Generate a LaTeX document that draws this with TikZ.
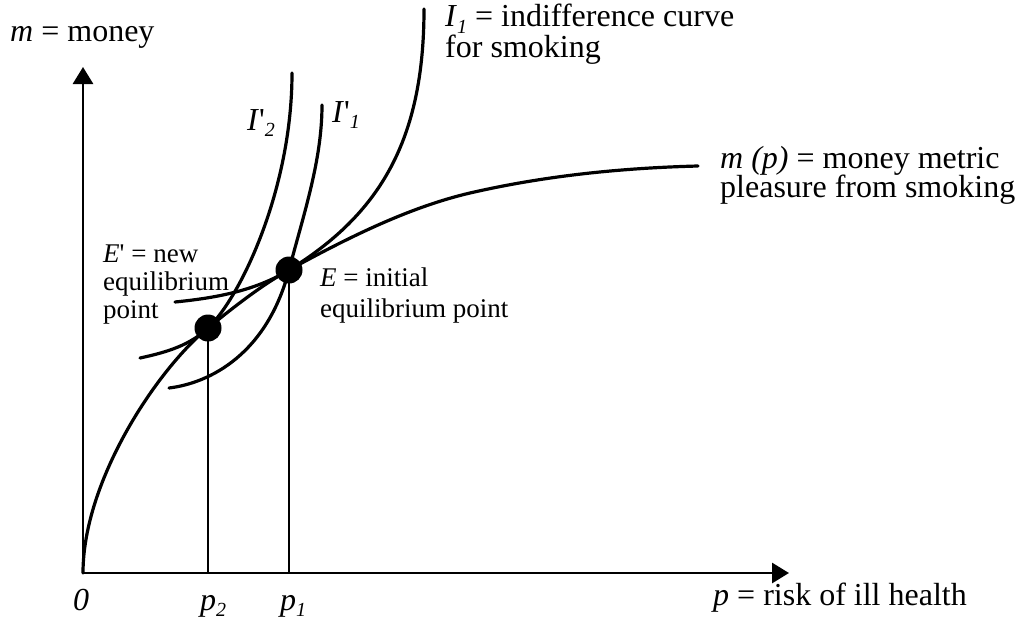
\documentclass[tikz,border=0pt]{standalone}
\usepackage{fontspec}
\setmainfont{Liberation Serif}
\usetikzlibrary{arrows.meta}
\newcommand{\sbs}[1]{\raisebox{-0.2em}{\fontsize{20}{20}\selectfont\itshape #1}}
\begin{document}
\begin{tikzpicture}[x=1pt,y=-1pt,
  curve/.style={line width=3.2pt, line cap=round},
  vline/.style={line width=2.6pt},
  axis/.style={line width=2.9pt, {Triangle[width=20pt,length=17pt]}-{Triangle[width=20pt,length=17pt]}},
  lbl/.style={anchor=base west, inner sep=0pt, font=\fontsize{32}{32}\selectfont},
  slbl/.style={anchor=base west, inner sep=0pt, font=\fontsize{27}{27}\selectfont},
  dot/.style={circle, fill=black, minimum size=27pt, inner sep=0pt}]
\useasboundingbox (0,0) rectangle (1022,626);
\coordinate (O) at (83,573);
\coordinate (ytip) at (83,67);
\coordinate (xtip) at (789,573);
\coordinate (Ep) at (208,328);
\coordinate (E) at (289,270);
\coordinate (M) at (470,193);
\coordinate (Mend) at (698,166);
\coordinate (I1s) at (175,302);
\coordinate (I1e) at (424,9);
\coordinate (J1s) at (169,388);
\coordinate (J1e) at (322,105);
\coordinate (J2s) at (140,358);
\coordinate (J2e) at (292,73);
% axes
\draw[axis] (ytip) -- (O) -- (xtip);
% m(p)
\draw[curve] (O) .. controls (83,480) and (158,368.5) .. (Ep)
  .. controls (235,306) and (262,285) .. (E)
  .. controls (349,237) and (410,207) .. (M)
  .. controls (546,175.5) and (622,168) .. (Mend);
% I1
\draw[curve] (I1s) .. controls (215,298) and (255,291) .. (E)
  .. controls (380,214) and (424,140) .. (I1e);
% I'1
\draw[curve] (J1s) .. controls (210,383) and (267,354) .. (E)
  .. controls (304,213) and (322,160) .. (J1e);
% I'2
\draw[curve] (J2s) .. controls (168,352) and (190,345) .. (Ep)
  .. controls (240,298) and (292,190) .. (J2e);
% verticals and dots
\draw[vline] (Ep) -- (Ep |- O);
\draw[vline] (E) -- (E |- O);
\node[dot] (dEp) at (Ep) {};
\node[dot] (dE) at (E) {};
% labels
\node[lbl] (ym) at (10,42) {\textit{m} = money};
\node[lbl] (lI2) at (247,130) {\textit{I}\textquotesingle\sbs{2}};
\node[lbl] (lI1p) at (332,122) {\textit{I}\textquotesingle\sbs{1}};
\node[lbl] (lI1a) at (445,27) {\textit{I}\sbs{1} = indifference curve};
\node[lbl] (lI1b) at (445,58) {for smoking};
\node[lbl] (lma) at (720,168) {\textit{m (p)} = money metric};
\node[lbl] (lmb) at (720,197) {pleasure from smoking};
\node[slbl] (lEpa) at (103,262) {\textit{E}\textquotesingle{} = new};
\node[slbl] (lEpb) at (103,290) {equilibrium};
\node[slbl] (lEpc) at (103,318) {point};
\node[slbl] (lEa) at (320,286) {\textit{E} = initial};
\node[slbl] (lEb) at (320,317) {equilibrium point};
\node[lbl] (l0) at (73,610) {\textit{0}};
\node[lbl] (lp2) at (200,610) {\textit{p}\sbs{2}};
\node[lbl] (lp1) at (280,610) {\textit{p}\sbs{1}};
\node[lbl] (lx) at (713,605) {\textit{p} = risk of ill health};
\end{tikzpicture}
\end{document}
